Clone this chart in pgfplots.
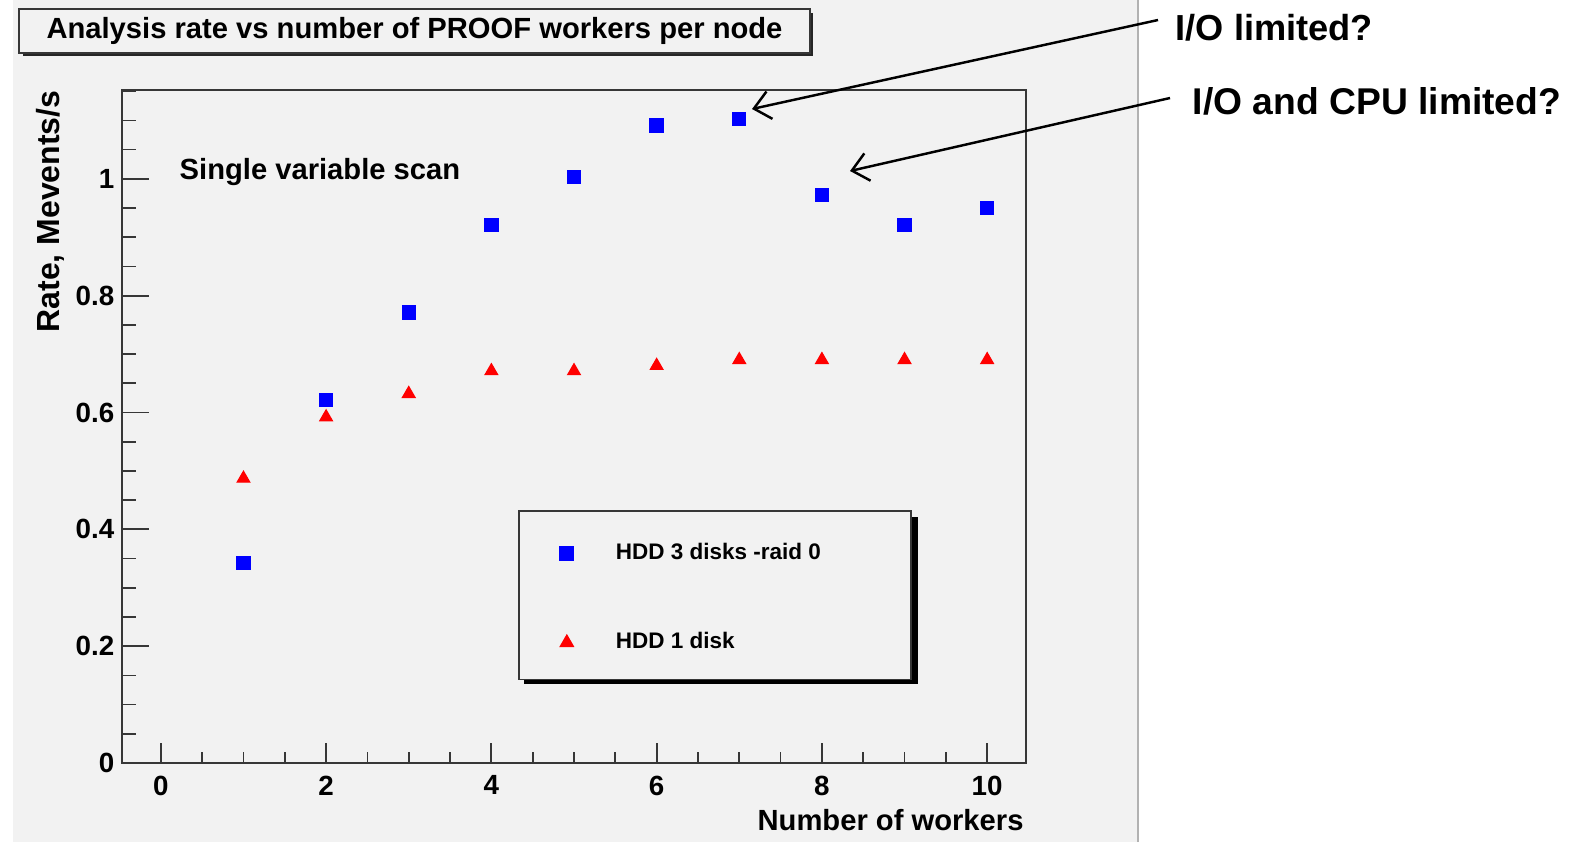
\documentclass[border=0pt]{standalone}
\usepackage{fontspec}
\setmainfont{Liberation Sans}
\usepackage{pgfplots}
\pgfplotsset{compat=1.18}
\usetikzlibrary{arrows.meta}
\definecolor{bg}{RGB}{242,242,242}
\definecolor{frame}{RGB}{55,55,55}
\begin{document}
\begin{tikzpicture}
\path[use as bounding box] (0,0) rectangle (157.7mm,84.2mm);
\fill[white] (0,0) rectangle (157.7mm,84.2mm);
\fill[bg] (1.3mm,0) rectangle (113.8mm,84.2mm);
\draw[black!30, line width=0.8pt] (113.8mm,0) -- (113.8mm,84.2mm);
\begin{axis}[
  at={(12.2mm,7.9mm)}, anchor=south west,
  scale only axis, width=90.4mm, height=67.3mm,
  xmin=-0.47, xmax=10.47, ymin=0, ymax=1.152,
  axis background/.style={fill=bg},
  axis line style={frame, line width=0.5pt},
  xtick={0,2,4,6,8,10}, minor xtick={0.5,1,...,10},
  ytick={0,0.2,0.4,0.6,0.8,1}, minor ytick={0.05,0.1,...,1.16},
  xtick pos=bottom, ytick pos=left,
  tick align=inside,
  major tick length=2.7mm, minor tick length=1.4mm,
  xtick style={/pgfplots/major tick length=2.0mm, /pgfplots/minor tick length=1.1mm},
  tick style={frame, line width=0.5pt},
  ticklabel style={font=\fontsize{7.9}{9}\selectfont\bfseries},
  /pgf/number format/assume math mode=true,
  xticklabel style={inner sep=0pt, yshift=-1.2mm},
  yticklabel style={inner sep=0pt, xshift=-0.7mm},
  xlabel={Number of workers},
  xlabel style={at={(axis description cs:0.998,-0.085)}, anchor=east, inner sep=0pt, font=\fontsize{8.3}{10}\selectfont\bfseries},
  ylabel={Rate, Mevents/s},
  ylabel style={at={(axis description cs:-0.0796,1)}, anchor=east, rotate=0, inner sep=0pt, font=\fontsize{9.1}{10}\selectfont\bfseries},
  clip=false,
  legend style={at={(rel axis cs:0.438,0.376)}, anchor=north west, draw=frame, line width=0.5pt, fill=bg,
    inner xsep=1.8mm, inner ysep=1.9mm, row sep=4.7mm,
    font=\fontsize{6.4}{7.5}\selectfont\bfseries,
    cells={anchor=west},
    /tikz/every odd column/.style={column sep=1.2mm}},
  legend image code/.code={\path[draw=none,fill=none] (0,-1.6mm) rectangle (6mm,2.4mm); \draw[#1] plot coordinates {(3mm,0mm)};},
]
\fill[black] (rel axis cs:0.4447,0.3655) rectangle (rel axis cs:0.8805,0.1174);
\addplot[only marks, mark=square*, mark size=1.85pt, color=blue] coordinates {
(1,0.342) (2,0.621) (3,0.771) (4,0.921) (5,1.003) (6,1.091) (7,1.102) (8,0.972) (9,0.921) (10,0.950)};
\addlegendentry{\makebox[27.0mm][l]{HDD 3 disks -raid 0}}
\addplot[only marks, mark=triangle*, mark size=2pt, color=red] coordinates {
(1,0.487) (2,0.592) (3,0.632) (4,0.671) (5,0.671) (6,0.680) (7,0.690) (8,0.690) (9,0.690) (10,0.690)};
\addlegendentry{\makebox[27.0mm][l]{HDD 1 disk}}
\node[anchor=west, inner sep=0pt, font=\fontsize{8.3}{10}\selectfont\bfseries] at (axis cs:0.22,1.012) {Single variable scan};
\end{axis}
\begin{scope}[x=0.1mm,y=-0.1mm,yshift=84.2mm]
\fill[black!85] (23,13) rectangle (813,56);
\filldraw[fill=bg, draw=frame, line width=0.5pt] (19,9) rectangle (810,53);
\node[font=\fontsize{8.3}{10}\selectfont\bfseries] at (414.5,31) {Analysis rate vs number of PROOF workers per node};
\node[anchor=base west, inner sep=0pt, font=\fontsize{10.3}{12}\selectfont\bfseries] at (1175,40) {I/O limited?};
\node[anchor=base west, inner sep=0pt, font=\fontsize{10.6}{12}\selectfont\bfseries] at (1192,114) {I/O and CPU limited?};
\draw[-{Straight Barb[length=1.6mm,width=2.8mm]}, line width=0.7pt] (1158,20) -- (752,109);
\draw[-{Straight Barb[length=1.6mm,width=2.8mm]}, line width=0.7pt] (1170,98) -- (850,171);
\end{scope}
\end{tikzpicture}
\end{document}
